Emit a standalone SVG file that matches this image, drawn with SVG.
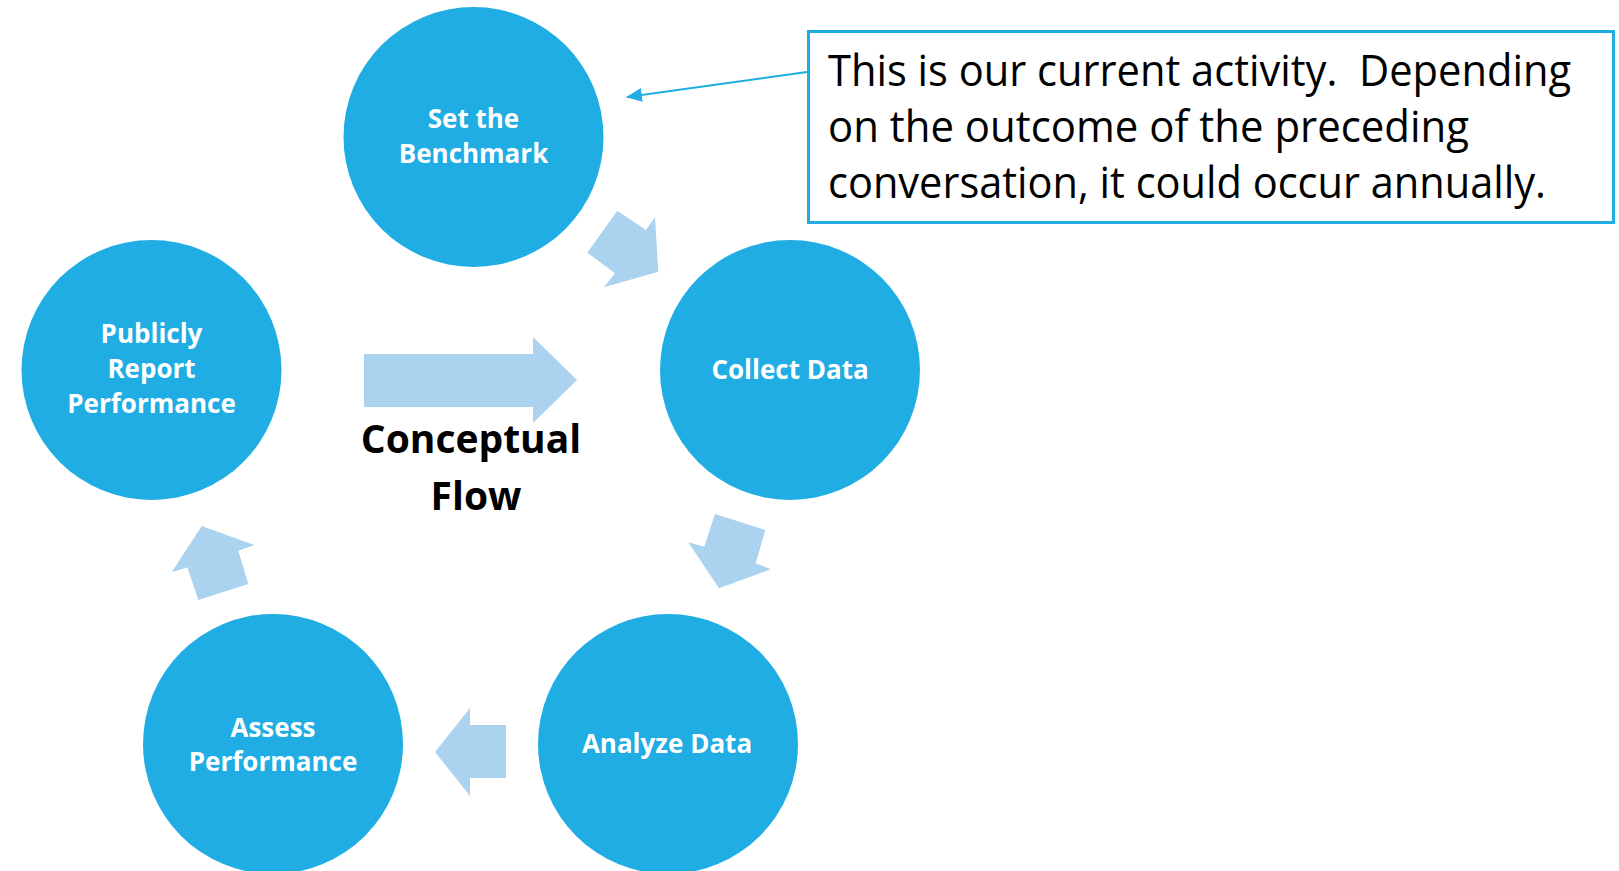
<svg xmlns="http://www.w3.org/2000/svg" width="1619" height="871" viewBox="0 0 1619 871">
<defs>
<style>
.node{fill:#1FADE3;}
.lbl{font-family:"Open Sans","Liberation Sans",sans-serif;font-weight:700;font-size:26px;fill:#FFFFFF;text-anchor:middle;}
.flow{fill:#ABD2EF;}
.big{font-family:"Open Sans","Liberation Sans",sans-serif;font-weight:700;font-size:39px;fill:#000000;text-anchor:middle;}
.note{font-family:"Open Sans","Liberation Sans",sans-serif;font-size:43px;fill:#000000;}
</style>
<marker id="ah" viewBox="0 0 16 14" refX="15" refY="7" markerWidth="16" markerHeight="14" markerUnits="userSpaceOnUse" orient="auto">
<path d="M0,0 L16,7 L0,14 Z" fill="#1FADE3"/>
</marker>
</defs>
<rect width="1619" height="871" fill="#FFFFFF"/>
<g id="connectors">
<polygon class="flow" points="617.3,210.7 646,230 655,217.3 658.3,271.7 604,287.3 615,273.3 587.3,252.7"/>
<polygon class="flow" points="715,514 765.3,530 755.7,563.3 771,569.3 719,588.3 688.3,542.3 704.3,546.7"/>
<polygon class="flow" points="506,725 470,725 470,708 435,752 470,796 470,778 506,778"/>
<polygon class="flow" points="201.7,526 254.3,545 238.3,550.7 248.3,584 198.3,600 187.3,567.3 171.7,572.3"/>
<line x1="807" y1="72" x2="627" y2="97" stroke="#1FADE3" stroke-width="2" marker-end="url(#ah)"/>
</g>
<g id="node-benchmark">
<circle class="node" cx="473.5" cy="137" r="130"/>
<text class="lbl" x="473.5" y="128">Set the</text>
<text class="lbl" x="473.5" y="163">Benchmark</text>
</g>
<g id="node-collect">
<circle class="node" cx="790" cy="370" r="130"/>
<text class="lbl" x="790" y="379">Collect Data</text>
</g>
<g id="node-analyze">
<circle class="node" cx="668" cy="744" r="130"/>
<text class="lbl" x="667" y="753">Analyze Data</text>
</g>
<g id="node-assess">
<circle class="node" cx="273" cy="744" r="130"/>
<text class="lbl" x="273" y="737">Assess</text>
<text class="lbl" x="273" y="771">Performance</text>
</g>
<g id="node-report">
<circle class="node" cx="151.5" cy="370" r="130"/>
<text class="lbl" x="151.5" y="343">Publicly</text>
<text class="lbl" x="151.5" y="378">Report</text>
<text class="lbl" x="151.5" y="413">Performance</text>
</g>
<g id="conceptual-flow">
<polygon class="flow" points="364,354 533,354 533,337 577,380 533,423 533,407 364,407"/>
<text class="big" x="471" y="453">Conceptual</text>
<text class="big" x="476" y="510">Flow</text>
</g>
<g id="callout">
<rect x="808.5" y="31.5" width="805" height="191" fill="#FFFFFF" stroke="#1FADE3" stroke-width="3"/>
<text class="note" x="828" y="86" textLength="743" lengthAdjust="spacingAndGlyphs" xml:space="preserve">This is our current activity.  Depending</text>
<text class="note" x="828" y="142" textLength="641" lengthAdjust="spacingAndGlyphs">on the outcome of the preceding</text>
<text class="note" x="828" y="198" textLength="718" lengthAdjust="spacingAndGlyphs">conversation, it could occur annually.</text>
</g>
</svg>
